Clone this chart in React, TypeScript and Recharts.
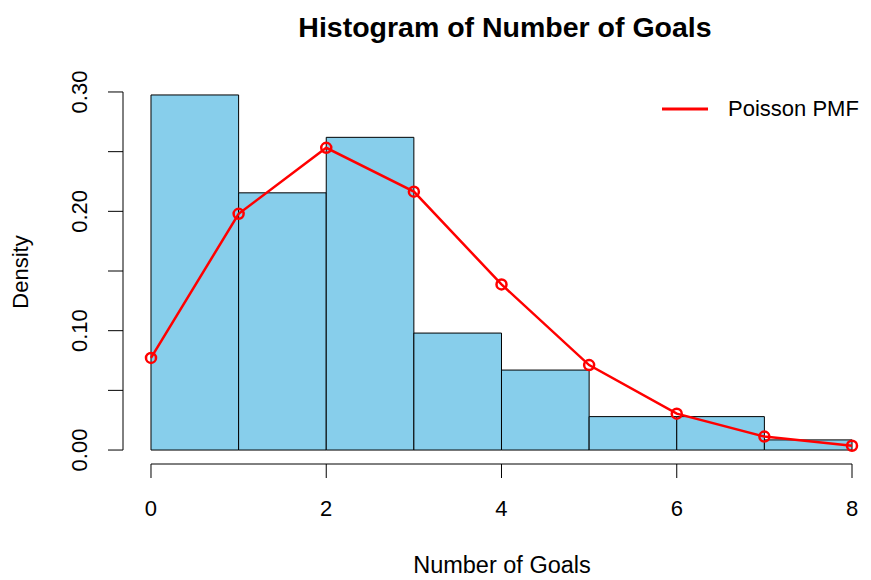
import React from 'react';
import { ComposedChart, XAxis, YAxis, Line, ReferenceArea, ReferenceLine } from 'recharts';

const binStarts = [0, 1, 2, 3, 4, 5, 6, 7];
const binEnds = [1, 2, 3, 4, 5, 6, 7, 8];
const densities = [0.2975, 0.2155, 0.262, 0.098, 0.067, 0.028, 0.028, 0.0085];
const goals = [0, 1, 2, 3, 4, 5, 6, 7, 8];
const pmf = [0.0772, 0.1979, 0.2532, 0.2165, 0.1388, 0.0712, 0.0305, 0.0113, 0.0036];
const xTicks = [0, 2, 4, 6, 8];
const yTicks = [0, 0.05, 0.1, 0.15, 0.2, 0.25, 0.3];
const yLabelTicks = ['0.00', '0.10', '0.20', '0.30'];
const seriesName = 'Poisson PMF';

const lineData = goals.map((g, i) => ({ x: g, pmf: pmf[i] }));

const FONT = '"Liberation Sans", Arial, Helvetica, sans-serif';
const X_DOMAIN: [number, number] = [-0.3195, 8.2168];
const Y_DOMAIN: [number, number] = [-0.0117, 0.3092];

const XTick = (props: any) => {
  const { x, y, payload } = props;
  return (
    <text x={x} y={y + 36} textAnchor="middle" fontFamily={FONT} fontSize={22} fill="#000">
      {String(payload.value)}
    </text>
  );
};

const YTick = (props: any) => {
  const { x, y, payload } = props;
  const v = payload.value;
  const idx = Math.round(v * 100);
  if (idx % 10 !== 0) return null;
  const label = yLabelTicks[idx / 10];
  return (
    <text
      transform={`translate(${x - 19}, ${y}) rotate(-90)`}
      textAnchor="middle"
      fontFamily={FONT}
      fontSize={22}
      fill="#000"
    >
      {label}
    </text>
  );
};

export default function App() {
  return (
    <div style={{ position: 'absolute', left: 0, top: 0, width: 871, height: 580, background: '#fff' }}>
      <ComposedChart
        width={871}
        height={580}
        data={lineData}
        margin={{ top: 81, right: 0, bottom: 56, left: 23 }}
      >
        <XAxis
          dataKey="x"
          type="number"
          domain={X_DOMAIN}
          allowDataOverflow
          ticks={xTicks}
          interval={0}
          axisLine={false}
          tickLine={{ stroke: '#000', strokeWidth: 1 }}
          tickSize={14}
          tick={<XTick />}
          height={60}
        />
        <YAxis
          type="number"
          domain={Y_DOMAIN}
          allowDataOverflow
          ticks={yTicks}
          interval={0}
          axisLine={false}
          tickLine={{ stroke: '#000', strokeWidth: 1 }}
          tickSize={15}
          tick={<YTick />}
          width={100}
        />
        {binStarts.map((s, i) => (
          <ReferenceArea
            key={i}
            x1={s}
            x2={binEnds[i]}
            y1={0}
            y2={densities[i]}
            fill="#87CEEB"
            fillOpacity={1}
            stroke="#000"
            strokeWidth={1}
            strokeOpacity={1}
            ifOverflow="visible"
          />
        ))}
        <ReferenceLine
          segment={[{ x: X_DOMAIN[0], y: 0 }, { x: X_DOMAIN[0], y: 0.3 }]}
          stroke="#000"
          strokeWidth={1}
          ifOverflow="visible"
        />
        <ReferenceLine
          segment={[{ x: 0, y: Y_DOMAIN[0] }, { x: 8, y: Y_DOMAIN[0] }]}
          stroke="#000"
          strokeWidth={1}
          ifOverflow="visible"
        />
        <Line
          dataKey="pmf"
          name={seriesName}
          type="linear"
          stroke="#FF0000"
          strokeWidth={2.5}
          dot={{ r: 5, stroke: '#FF0000', strokeWidth: 2.5, fill: 'none' }}
          activeDot={false}
          isAnimationActive={false}
        />
      </ComposedChart>
      <svg
        width={871}
        height={580}
        style={{ position: 'absolute', left: 0, top: 0, pointerEvents: 'none' }}
      >
        <text x={505} y={37} textAnchor="middle" fontFamily={FONT} fontSize={28.5} fontWeight="bold" fill="#000">
          Histogram of Number of Goals
        </text>
        <text x={502} y={573} textAnchor="middle" fontFamily={FONT} fontSize={23.5} fill="#000">
          Number of Goals
        </text>
        <text
          transform="translate(28, 272) rotate(-90)"
          textAnchor="middle"
          fontFamily={FONT}
          fontSize={22}
          fill="#000"
        >
          Density
        </text>
        <line x1={662} y1={109} x2={708} y2={109} stroke="#FF0000" strokeWidth={3} />
        <text x={728} y={116} fontFamily={FONT} fontSize={22} fill="#000">{seriesName}</text>
      </svg>
    </div>
  );
}
